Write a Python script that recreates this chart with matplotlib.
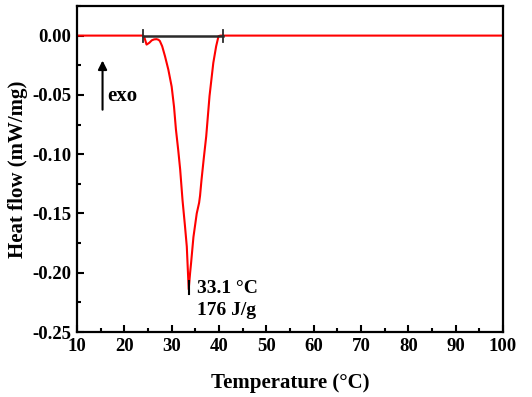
import matplotlib
matplotlib.use("Agg")
import matplotlib.pyplot as plt
from matplotlib.ticker import MultipleLocator

plt.rcParams['font.family'] = ['Liberation Serif', 'DejaVu Serif']
plt.rcParams['font.weight'] = 'bold'

# DSC curve
temp = [10, 23.9, 24.2, 24.7, 25.3, 25.8, 26.3, 26.8, 27.2, 27.5, 28.0, 28.6, 29.3,
        30.0, 30.5, 30.9, 31.4, 31.8, 32.3, 32.8, 33.2, 33.6, 33.9, 34.1, 34.6,
        35.3, 35.8, 36.0, 36.3, 36.8, 37.3, 38.0, 38.8, 39.4, 39.9, 40.3, 100]
heat = [0, 0, -0.001, -0.0076, -0.006, -0.004, -0.0032, -0.003, -0.0035, -0.0045,
        -0.009, -0.0175, -0.0287, -0.043, -0.060, -0.079, -0.097, -0.113, -0.139,
        -0.160, -0.178, -0.214, -0.200, -0.192, -0.170, -0.150, -0.141, -0.135,
        -0.122, -0.103, -0.085, -0.051, -0.023, -0.009, -0.0005, 0, 0]

peak_t = 33.6
onset_t = 23.9
end_t = 40.8
peak_label = "33.1 °C"
enthalpy_label = "176 J/g"

fig = plt.figure(figsize=(5.32, 3.97), dpi=100)
ax = fig.add_axes([0.1447, 0.1637, 0.8008, 0.8213])

ax.plot(temp, heat, color='red', lw=1.5, zorder=2)

# integration baseline
ax.plot([onset_t, end_t], [0, 0], color='#2b2b2b', lw=1.8, zorder=3)
for t in (onset_t, end_t):
    ax.plot([t, t], [-0.005, 0.005], color='#2b2b2b', lw=1.3, zorder=3)
# peak marker
ax.plot([peak_t, peak_t], [-0.207, -0.218], color='black', lw=1.5, zorder=3)

ax.text(35.3, -0.2137, peak_label, fontsize=14, fontweight='bold', va='center')
ax.text(35.3, -0.232, enthalpy_label, fontsize=14, fontweight='bold', va='center')

ax.annotate('', xy=(15.4, -0.021), xytext=(15.4, -0.0625),
            arrowprops=dict(arrowstyle='-|>', color='black', lw=1.5,
                            mutation_scale=13, shrinkA=0, shrinkB=0))
ax.text(16.5, -0.051, 'exo', fontsize=15, fontweight='bold', va='center')

ax.set_xlim(10, 100)
ax.set_ylim(-0.25, 0.025)
ax.xaxis.set_major_locator(MultipleLocator(10))
ax.xaxis.set_minor_locator(MultipleLocator(5))
ax.yaxis.set_major_locator(MultipleLocator(0.05))
ax.yaxis.set_minor_locator(MultipleLocator(0.025))
ax.yaxis.set_major_formatter(plt.FuncFormatter(lambda v, p: f"{v:.2f}"))
ax.tick_params(which='both', direction='in', width=1.5, labelsize=13.5)
ax.tick_params(which='major', length=5, pad=4)
ax.tick_params(which='minor', length=3)
for s in ax.spines.values():
    s.set_linewidth(1.6)

ax.set_xlabel('Temperature (°C)', fontsize=15, fontweight='bold', labelpad=13)
ax.set_ylabel('Heat flow (mW/mg)', fontsize=15, fontweight='bold', labelpad=3)

fig.savefig('out.png', dpi=100)
